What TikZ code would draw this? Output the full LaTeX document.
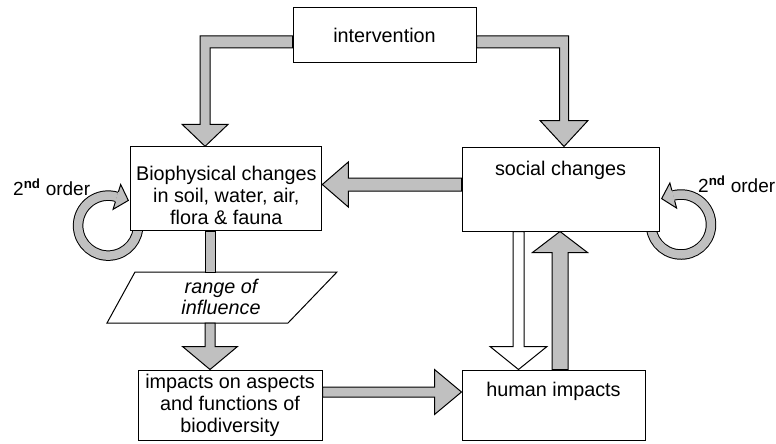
\documentclass[tikz,border=0pt]{standalone}
\usepackage{fontspec}
\setmainfont{Liberation Sans}
\usetikzlibrary{calc,backgrounds}
\definecolor{shaftgray}{HTML}{C0C0C0}
\newcommand{\blockarrow}[6][shaftgray]{%
  \coordinate (ba-base) at ($(#3)!#6!(#2)$);
  \draw[blockline, fill=#1] ($(#2)!#4!90:(#3)$) -- ($(ba-base)!#4!90:(#3)$) -- ($(ba-base)!#5!90:(#3)$) -- (#3)
    -- ($(ba-base)!#5!-90:(#3)$) -- ($(ba-base)!#4!-90:(#3)$) -- ($(#2)!#4!-90:(#3)$) -- cycle;}

\begin{document}
\begin{tikzpicture}[x=1pt, y=-1pt,
        every node/.style={font=\fontsize{19.8}{22}\selectfont},
        box/.style={draw, rectangle, fill=white, line width=1pt, align=center, inner sep=0pt},
        order/.style={anchor=base west, inner sep=0pt, font=\fontsize{19}{22}\selectfont},
        blockline/.style={draw, line width=1pt, line join=miter},
        loopline/.style={draw=black, line width=1pt, double=shaftgray, double distance=8.5pt}]
        \useasboundingbox (0,0) rectangle (776,444);

        \node[box, minimum width=183pt, minimum height=55pt] (interv) at (384.5,35.5) {intervention};
        \node[box, minimum width=191pt, minimum height=84pt] (bio) at (226.3,188.8) {\rule{0pt}{28pt}Biophysical changes\\in soil, water, air,\\flora \& fauna};
        \node[box, minimum width=197pt, minimum height=84pt, text height=28pt, text depth=56pt] (social) at (560.5,189) {social changes};
        \node[box, minimum width=184pt, minimum height=70pt] (impacts) at (230,405) {impacts on aspects\\and functions of\\biodiversity};
        \node[box, minimum width=183pt, minimum height=70pt, text height=26pt, text depth=44pt] (human) at (553.5,405) {human impacts};

        \draw[line width=1pt, fill=white] (135,272) -- (337,272) -- (288,323) -- (107,323) -- cycle;
        \node[align=center, font=\fontsize{19.8}{21}\selectfont\itshape] (range) at (221,297) {range of\\influence};
        \coordinate (rtop) at (210,272);
        \coordinate (rbot) at (210,323);

        \node[order] (ordleft) at (13,195) {2\textsuperscript{\bfseries nd} order};
        \node[order] (ordright) at (698,192) {2\textsuperscript{\bfseries nd} order};

        \begin{pgfonlayer}{background}
        \coordinate (lc) at ($(bio.south west)+(-22.2,-5.7)$);
        \draw[loopline] ($(lc)+(-5:30)$) arc[start angle=-5, end angle=287, radius=30];
        \fill[shaftgray] ($(lc)+(287:43)$) -- ($(lc)+(287:30)+(17:12)$) -- ($(lc)+(287:17)$) -- cycle;
        \draw[blockline] ($(lc)+(287:35.25)$) -- ($(lc)+(287:43)$) -- ($(lc)+(287:30)+(17:12)$) -- ($(lc)+(287:17)$) -- ($(lc)+(287:24.75)$);
        \coordinate (rc) at ($(social.south east)+(21.5,-7)$);
        \draw[loopline] ($(rc)+(185:30)$) arc[start angle=185, end angle=-105, radius=30];
        \fill[shaftgray] ($(rc)+(-105:43)$) -- ($(rc)+(-105:30)+(165:12)$) -- ($(rc)+(-105:17)$) -- cycle;
        \draw[blockline] ($(rc)+(-105:35.25)$) -- ($(rc)+(-105:43)$) -- ($(rc)+(-105:30)+(165:12)$) -- ($(rc)+(-105:17)$) -- ($(rc)+(-105:24.75)$);
        \end{pgfonlayer}

        \coordinate (il) at ($(interv.west)+(0,6.5)$);
        \coordinate (bt) at ($(bio.north west)+(74.8,0)$);
        \draw[blockline, fill=shaftgray] ($(il)+(0,-6)$) -- ($(bt |- il)+(-5,-6)$) -- ($(bt)+(-5,-22)$) -- ($(bt)+(-23,-22)$) -- (bt)
            -- ($(bt)+(23,-22)$) -- ($(bt)+(5,-22)$) -- ($(bt |- il)+(5,6)$) -- ($(il)+(0,6)$) -- cycle;
        \coordinate (ir) at ($(interv.east)+(0,6.5)$);
        \coordinate (st) at ($(social.north west)+(102.5,0)$);
        \draw[blockline, fill=shaftgray] ($(ir)+(0,-6)$) -- ($(st |- ir)+(4.5,-6)$) -- ($(st)+(4.5,-26)$) -- ($(st)+(24,-26)$) -- (st)
            -- ($(st)+(-24,-26)$) -- ($(st)+(-4.5,-26)$) -- ($(st |- ir)+(-4.5,6)$) -- ($(ir)+(0,6)$) -- cycle;

        \coordinate (scout) at ($(social.west)+(0,-4.5)$);
        \coordinate (bioin) at (bio.east |- scout);
        \blockarrow{scout}{bioin}{6.5pt}{22.5pt}{26pt}

        \draw[blockline, fill=shaftgray] ($(bio.south -| rtop)+(-5,0)$) rectangle ($(rtop)+(5,0)$);
        \coordinate (impin) at (impacts.north -| rbot);
        \blockarrow{rbot}{impin}{5pt}{27.5pt}{23pt}

        \coordinate (impout) at ($(impacts.east)+(0,-13)$);
        \coordinate (humin) at (human.west |- impout);
        \blockarrow{impout}{humin}{5pt}{22.5pt}{27pt}

        \coordinate (socdown) at ($(social.south)+(-42,0)$);
        \coordinate (humtop) at (human.north -| socdown);
        \blockarrow[white]{socdown}{humtop}{5.5pt}{28.5pt}{23pt}

        \coordinate (humup) at ($(human.north)+(6.5,0)$);
        \coordinate (socbot) at (social.south -| humup);
        \blockarrow{humup}{socbot}{8pt}{27.5pt}{21pt}
    \end{tikzpicture}
\end{document}
